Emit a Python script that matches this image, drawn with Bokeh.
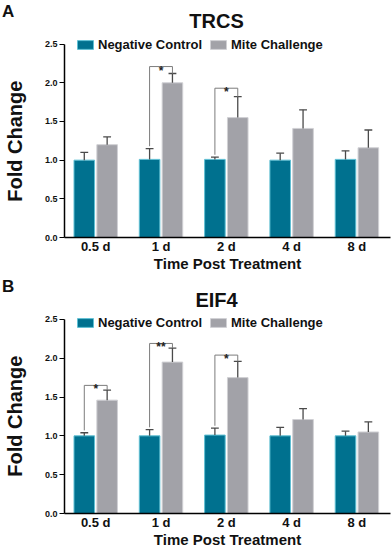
from bokeh.plotting import figure
from bokeh.layouts import column
from bokeh.models import Range1d, FixedTicker, Legend, LegendItem, Label, Div
from bokeh.embed import file_html
from bokeh.resources import INLINE
from bokeh.core.properties import value

# ---------------- data ----------------
time_labels = ["0.5 d", "1 d", "2 d", "4 d", "8 d"]
groups = [1, 2, 3, 4, 5]
y_ticks = [0.0, 0.5, 1.0, 1.5, 2.0, 2.5]

trcs_neg = [1.00, 1.01, 1.01, 1.00, 1.01]
trcs_neg_err = [0.10, 0.14, 0.03, 0.09, 0.11]
trcs_mite = [1.20, 2.00, 1.55, 1.41, 1.16]
trcs_mite_err = [0.10, 0.12, 0.27, 0.24, 0.23]
trcs_sig_groups = [2, 3]
trcs_sig_tops = [2.21, 1.93]
trcs_sig_labels = ["*", "*"]

eif4_neg = [1.00, 1.00, 1.01, 1.00, 1.00]
eif4_neg_err = [0.04, 0.08, 0.09, 0.11, 0.06]
eif4_mite = [1.46, 1.95, 1.75, 1.21, 1.05]
eif4_mite_err = [0.13, 0.18, 0.21, 0.14, 0.13]
eif4_sig_groups = [1, 2, 3]
eif4_sig_tops = [1.65, 2.19, 2.04]
eif4_sig_labels = ["*", "**", "*"]

series_names = ["Negative Control", "Mite Challenge"]

# ---------------- style ----------------
FONT = "Liberation Sans"
BLUE = "#00718f"
BLUE_EDGE = "#5fc0d4"
GRAY = "#a2a2a8"
GRAY_EDGE = "#d0d0d4"
ERR = "#4a4a4a"
BRK = "#7c7c7c"
DODGE = 0.175
BAR_W = 0.315
CAP = 0.06
PAD = "\u00a0" * 8  # shifts the rotated y label toward the 0..2.5 span


def make_panel(title, neg, neg_err, mite, mite_err, sig_groups, sig_tops, sig_labels,
               height, y_end, bottom, title_y, legend_y):
    p = figure(width=391, height=height, output_backend="svg", toolbar_location=None,
               x_range=Range1d(0.522, 5.514), y_range=Range1d(0, y_end),
               min_border_left=56, min_border_right=1, min_border_top=0,
               min_border_bottom=bottom)
    p.outline_line_color = None
    p.xgrid.visible = False
    p.ygrid.visible = False

    xn = [g - DODGE for g in groups]
    xm = [g + DODGE for g in groups]
    rn = p.vbar(x=xn, top=neg, width=BAR_W, bottom=0, fill_color=BLUE, line_color=BLUE_EDGE, line_width=1)
    rm = p.vbar(x=xm, top=mite, width=BAR_W, bottom=0, fill_color=GRAY, line_color=GRAY_EDGE, line_width=1)

    for xs, vals, errs in ((xn, neg, neg_err), (xm, mite, mite_err)):
        tops = [v + e for v, e in zip(vals, errs)]
        p.segment(x0=xs, y0=vals, x1=xs, y1=tops, line_color=ERR, line_width=1.3)
        p.segment(x0=[x - CAP for x in xs], y0=tops, x1=[x + CAP for x in xs], y1=tops,
                  line_color=ERR, line_width=1.3)

    bxs, bys, sx, sy = [], [], [], []
    for g, t in zip(sig_groups, sig_tops):
        i = groups.index(g)
        lx, rx = g - DODGE, g + DODGE
        lb = neg[i] + neg_err[i] + 0.03
        rb = mite[i] + mite_err[i]
        bxs.append([lx, lx, rx, rx])
        bys.append([lb, t, t, rb])
        sx.append(g)
        sy.append(t)
    p.multi_line(xs=bxs, ys=bys, line_color=BRK, line_width=1)
    p.text(x=sx, y=sy, text=sig_labels, text_align="center", text_baseline="alphabetic",
           y_offset=4, text_font=value(FONT), text_font_style="bold", text_font_size="12px",
           text_color="#222222")

    # axes
    p.xaxis.ticker = FixedTicker(ticks=groups)
    p.xaxis.major_label_overrides = {g: l for g, l in zip(groups, time_labels)}
    p.xaxis.major_tick_out = 0
    p.xaxis.major_tick_in = 0
    p.xaxis.minor_tick_line_color = None
    p.xaxis.axis_line_width = 1.5
    p.xaxis.major_label_standoff = 1
    p.xaxis.major_label_text_font = FONT
    p.xaxis.major_label_text_font_style = "bold"
    p.xaxis.major_label_text_font_size = "13px"
    p.xaxis.major_label_text_color = "#111111"
    p.xaxis.axis_label = "Time Post Treatment"
    p.xaxis.axis_label_text_font = FONT
    p.xaxis.axis_label_text_font_style = "bold"
    p.xaxis.axis_label_text_font_size = "15px"
    p.xaxis.axis_label_text_color = "#111111"
    p.xaxis.axis_label_standoff = -2

    p.yaxis.bounds = (0, 2.5)
    p.yaxis.ticker = FixedTicker(ticks=y_ticks)
    p.yaxis.major_label_overrides = {t: f"{t:.1f}" for t in y_ticks}
    p.yaxis.major_tick_out = 5
    p.yaxis.major_tick_in = 0
    p.yaxis.minor_tick_line_color = None
    p.yaxis.axis_line_width = 1.5
    p.yaxis.major_label_standoff = 2
    p.yaxis.major_label_text_font = FONT
    p.yaxis.major_label_text_font_style = "bold"
    p.yaxis.major_label_text_font_size = "9px"
    p.yaxis.major_label_text_color = "#111111"
    p.yaxis.axis_label = "Fold Change" + PAD
    p.yaxis.axis_label_text_font = FONT
    p.yaxis.axis_label_text_font_style = "bold"
    p.yaxis.axis_label_text_font_size = "20px"
    p.yaxis.axis_label_text_color = "#111111"
    p.yaxis.axis_label_standoff = 16

    legend = Legend(items=[LegendItem(label=series_names[0], renderers=[rn]),
                           LegendItem(label=series_names[1], renderers=[rm])],
                    orientation="horizontal", location=(11, legend_y),
                    glyph_width=20, glyph_height=11, label_height=11,
                    label_standoff=3, spacing=6, padding=0, margin=0,
                    border_line_alpha=0, background_fill_alpha=0,
                    label_text_font=FONT, label_text_font_style="bold",
                    label_text_font_size="13px", label_text_color="#111111")
    p.add_layout(legend, "center")

    p.add_layout(Label(x=2.85, y=title_y, text=title, text_font=FONT,
                       text_font_style="bold", text_font_size="20px", text_baseline="middle",
                       text_align="center", text_color="#111111"))
    return p


def letter_div(letter, top):
    html = ('<span style="font-family:\'Liberation Sans\';font-size:17px;font-weight:bold;'
            'color:#111111;line-height:20px">%s</span>' % letter)
    return Div(text=html, width=24, height=22,
               styles={"position": "absolute", "left": "2px", "top": "%dpx" % top,
                       "z-index": "10", "font-size": "17px", "line-height": "20px",
                       "margin": "0", "padding": "0"})


pA = make_panel("TRCS", trcs_neg, trcs_neg_err, trcs_mite, trcs_mite_err,
                trcs_sig_groups, trcs_sig_tops, trcs_sig_labels,
                274, 3.064, 35, 2.795, 185)
pB = make_panel("EIF4", eif4_neg, eif4_neg_err, eif4_mite, eif4_mite_err,
                eif4_sig_groups, eif4_sig_tops, eif4_sig_labels,
                276, 3.078, 35, 2.75, 183)

layout = column(pA, pB, letter_div("A", 2), letter_div("B", 277))
open("out.html", "w").write(file_html(layout, INLINE))
